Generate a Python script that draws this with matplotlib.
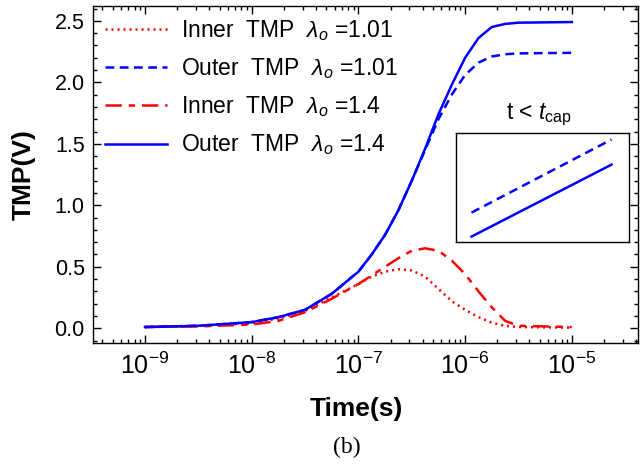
import numpy as np
import matplotlib
matplotlib.use("Agg")
import matplotlib.pyplot as plt
from matplotlib.ticker import LogLocator, MultipleLocator, FixedLocator, NullFormatter

plt.rcParams['font.family'] = ['Liberation Sans', 'DejaVu Sans']
plt.rcParams['mathtext.fontset'] = 'custom'
plt.rcParams['mathtext.rm'] = 'Liberation Sans'
plt.rcParams['mathtext.it'] = 'Liberation Sans:italic'
plt.rcParams['mathtext.bf'] = 'Liberation Sans:bold'

# time axis, log10 of seconds
log_t = [-9.0, -8.5, -8.0, -7.75, -7.5, -7.25, -7.0, -6.875, -6.75, -6.625,
         -6.5, -6.375, -6.25, -6.125, -6.0, -5.875, -5.75, -5.625, -5.5, -5.0]

# inner / outer TMP (V)
inner_101 = [0.01, 0.02, 0.04, 0.08, 0.14, 0.25, 0.36, 0.42, 0.46, 0.48,
             0.47, 0.42, 0.32, 0.22, 0.15, 0.09, 0.045, 0.02, 0.01, 0.005]
outer_101 = [0.01, 0.02, 0.05, 0.09, 0.15, 0.28, 0.46, 0.60, 0.76, 0.96,
             1.20, 1.45, 1.70, 1.90, 2.06, 2.16, 2.21, 2.228, 2.235, 2.24]
inner_14 = [0.01, 0.015, 0.03, 0.06, 0.13, 0.24, 0.36, 0.43, 0.50, 0.57,
            0.63, 0.65, 0.63, 0.55, 0.44, 0.30, 0.17, 0.06, 0.02, 0.01]
outer_14 = [0.01, 0.02, 0.05, 0.09, 0.15, 0.28, 0.46, 0.60, 0.76, 0.96,
            1.20, 1.46, 1.74, 1.98, 2.20, 2.36, 2.45, 2.475, 2.485, 2.49]

labels = [r"Inner  TMP  $\lambda_o$ =1.01", r"Outer  TMP  $\lambda_o$ =1.01",
          r"Inner  TMP  $\lambda_o$ =1.4", r"Outer  TMP  $\lambda_o$ =1.4"]

# inset (t < t_cap), schematic straight lines in inset units
inset_x = [0.09, 0.90]
inset_outer_101 = [0.27, 0.94]
inset_outer_14 = [0.05, 0.71]

t = 10.0 ** np.array(log_t)

fig = plt.figure(figsize=(6.4, 4.67), dpi=100)
ax = fig.add_axes([0.1453, 0.2655, 0.8516, 0.7215])

lw = 1.8
ax.plot(t, inner_101, color='red', linestyle=(0, (0.8, 1.6)), linewidth=lw, label=labels[0])
ax.plot(t, outer_101, color='blue', linestyle=(0, (3.5, 2.2)), linewidth=lw, label=labels[1])
ax.plot(t, inner_14, color='red', linestyle=(0, (6.5, 2.8, 2.5, 2.8)), linewidth=lw, label=labels[2])
ax.plot(t, outer_14, color='blue', linestyle='-', linewidth=lw, label=labels[3])

ax.set_xscale('log')
ax.set_xlim(10 ** -9.487, 10 ** -4.38)
ax.set_ylim(-0.12, 2.62)

ax.xaxis.set_major_locator(FixedLocator([1e-9, 1e-8, 1e-7, 1e-6, 1e-5]))
ax.xaxis.set_minor_locator(LogLocator(base=10, subs=np.arange(2, 10), numticks=20))
ax.xaxis.set_minor_formatter(NullFormatter())
ax.set_xticklabels([r"$10^{-9}$", r"$10^{-8}$", r"$10^{-7}$", r"$10^{-6}$", r"$10^{-5}$"])
ax.yaxis.set_minor_locator(MultipleLocator(0.1))
ax.set_yticks([0.0, 0.5, 1.0, 1.5, 2.0, 2.5])
ax.set_yticklabels(["0.0", "0.5", "1.0", "1.5", "2.0", "2.5"])

ax.tick_params(which='both', direction='in', top=True, right=True, colors='black')
ax.tick_params(which='major', length=6, width=1.0, pad=6)
ax.tick_params(axis='y', which='major', labelsize=15.5)
ax.tick_params(axis='x', which='major', labelsize=18, pad=7)
ax.tick_params(which='minor', length=3, width=1.0)
for s in ax.spines.values():
    s.set_linewidth(1.0)

ax.set_xlabel("Time(s)", fontsize=19, fontweight='bold')
ax.xaxis.set_label_coords(0.483, -0.16)
ax.set_ylabel("TMP(V)", fontsize=19, fontweight='bold')
ax.yaxis.set_label_coords(-0.105, 0.5)

ax.legend(loc='upper left', frameon=False, fontsize=16.5, handlelength=2.7,
          labelspacing=0.58, handletextpad=0.6, borderaxespad=0.12,
          bbox_to_anchor=(0.0, 1.0))

# inset box
ins = fig.add_axes([0.7125, 0.4818, 0.270, 0.2334])
ins.plot(inset_x, inset_outer_101, color='blue', linestyle=(0, (3.5, 2.2)), linewidth=lw)
ins.plot(inset_x, inset_outer_14, color='blue', linestyle='-', linewidth=lw)
ins.set_xlim(0, 1)
ins.set_ylim(0, 1)
ins.set_xticks([])
ins.set_yticks([])
for s in ins.spines.values():
    s.set_linewidth(1.0)
fig.text(539 / 640, 1 - 115 / 467, r"t < $t_{\mathrm{cap}}$", fontsize=16.5,
         ha='center', va='center')

fig.text(347 / 640, 1 - 447 / 467, "(b)", fontsize=17, family='Liberation Serif',
         ha='center', va='center')

fig.savefig("out.png", dpi=100)
